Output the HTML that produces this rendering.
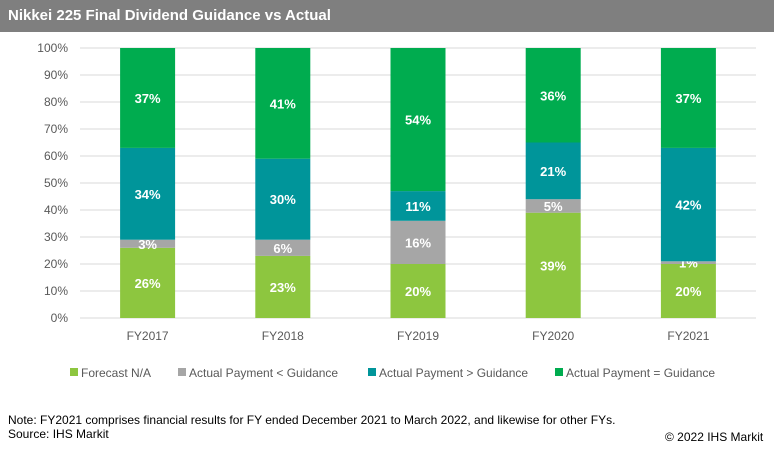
<!DOCTYPE html>
<html><head><meta charset="utf-8"><style>
body{margin:0;background:#fff;font-family:"Liberation Sans",sans-serif;}
#wrap{position:relative;width:774px;height:452px;overflow:hidden;}
#title{position:absolute;left:0;top:0;width:774px;height:32px;background:#7f7f7f;color:#fff;font-weight:bold;font-size:15px;line-height:32px;padding-left:8px;box-sizing:border-box;}
.note{position:absolute;font-size:12px;color:#000;}
</style></head><body>
<div id="wrap">
<div id="title">Nikkei 225 Final Dividend Guidance vs Actual</div>
<svg id="chart" width="774" height="452" style="position:absolute;left:0;top:0"></svg>
<div class="note" style="left:8px;top:413px">Note: FY2021 comprises financial results for FY ended December 2021 to March 2022, and likewise for other FYs.</div>
<div class="note" style="left:8px;top:427px">Source: IHS Markit</div>
<div class="note" style="left:665px;top:430px">© 2022 IHS Markit</div>
</div>
<script>
const categories=["FY2017","FY2018","FY2019","FY2020","FY2021"];
const seriesNames=["Forecast N/A","Actual Payment < Guidance","Actual Payment > Guidance","Actual Payment = Guidance"];
const forecastNA=[26,23,20,39,20];
const belowGuidance=[3,6,16,5,1];
const aboveGuidance=[34,30,11,21,42];
const equalGuidance=[37,41,54,36,37];
const yTicks=[0,10,20,30,40,50,60,70,80,90,100];
const colors=["#8dc63f","#a6a6a6","#00959a","#00ac4f"];
const series=[forecastNA,belowGuidance,aboveGuidance,equalGuidance];
const NS="http://www.w3.org/2000/svg";
const svg=document.getElementById('chart');
const x0=80,x1=756,y0=318,y1=48,bw=55;
const y=v=>y0-(v/100)*(y0-y1);
const band=(x1-x0)/categories.length;
const xc=i=>x0+band*(i+0.5);
function mk(t,a){const e=document.createElementNS(NS,t);for(const k in a)e.setAttribute(k,a[k]);svg.appendChild(e);return e;}
yTicks.forEach(t=>{
 const l=mk('line',{x1:x0,x2:x1,y1:y(t),y2:y(t),stroke:'#d9d9d9','stroke-width':1});
 
 
 const tx=mk('text',{x:68,y:y(t)+4,'text-anchor':'end','font-size':12,fill:'#595959','font-family':'Liberation Sans, sans-serif'});
 tx.textContent=t+'%';
 
 
});
categories.forEach((c,i)=>{
 let cum=0;
 series.forEach((s,k)=>{
  const v=s[i];const a=Math.min(cum,100),b=Math.min(cum+v,100);cum+=v;
  const r=mk('rect',{x:xc(i)-bw/2,y:y(b),width:bw,height:y(a)-y(b),fill:colors[k]});
  
  
  const t=mk('text',{x:xc(i),y:(y(a)+y(b))/2+5,'text-anchor':'middle','font-size':13,'font-weight':'bold',fill:'#fff','font-family':'Liberation Sans, sans-serif'});
  t.textContent=v+'%';
  
  
 });
 const t=mk('text',{x:xc(i),y:340,'text-anchor':'middle','font-size':12,fill:'#595959','font-family':'Liberation Sans, sans-serif'});
 t.textContent=c;
 
 
});
const legX=[70,178,368,555];
seriesNames.forEach((n,k)=>{
 const r=mk('rect',{x:legX[k],y:368,width:8,height:8,fill:colors[k]});
 
 
 const t=mk('text',{x:legX[k]+11,y:377,'font-size':12,fill:'#595959','font-family':'Liberation Sans, sans-serif'});
 t.textContent=n;
 
 
});
</script>
</body></html>
